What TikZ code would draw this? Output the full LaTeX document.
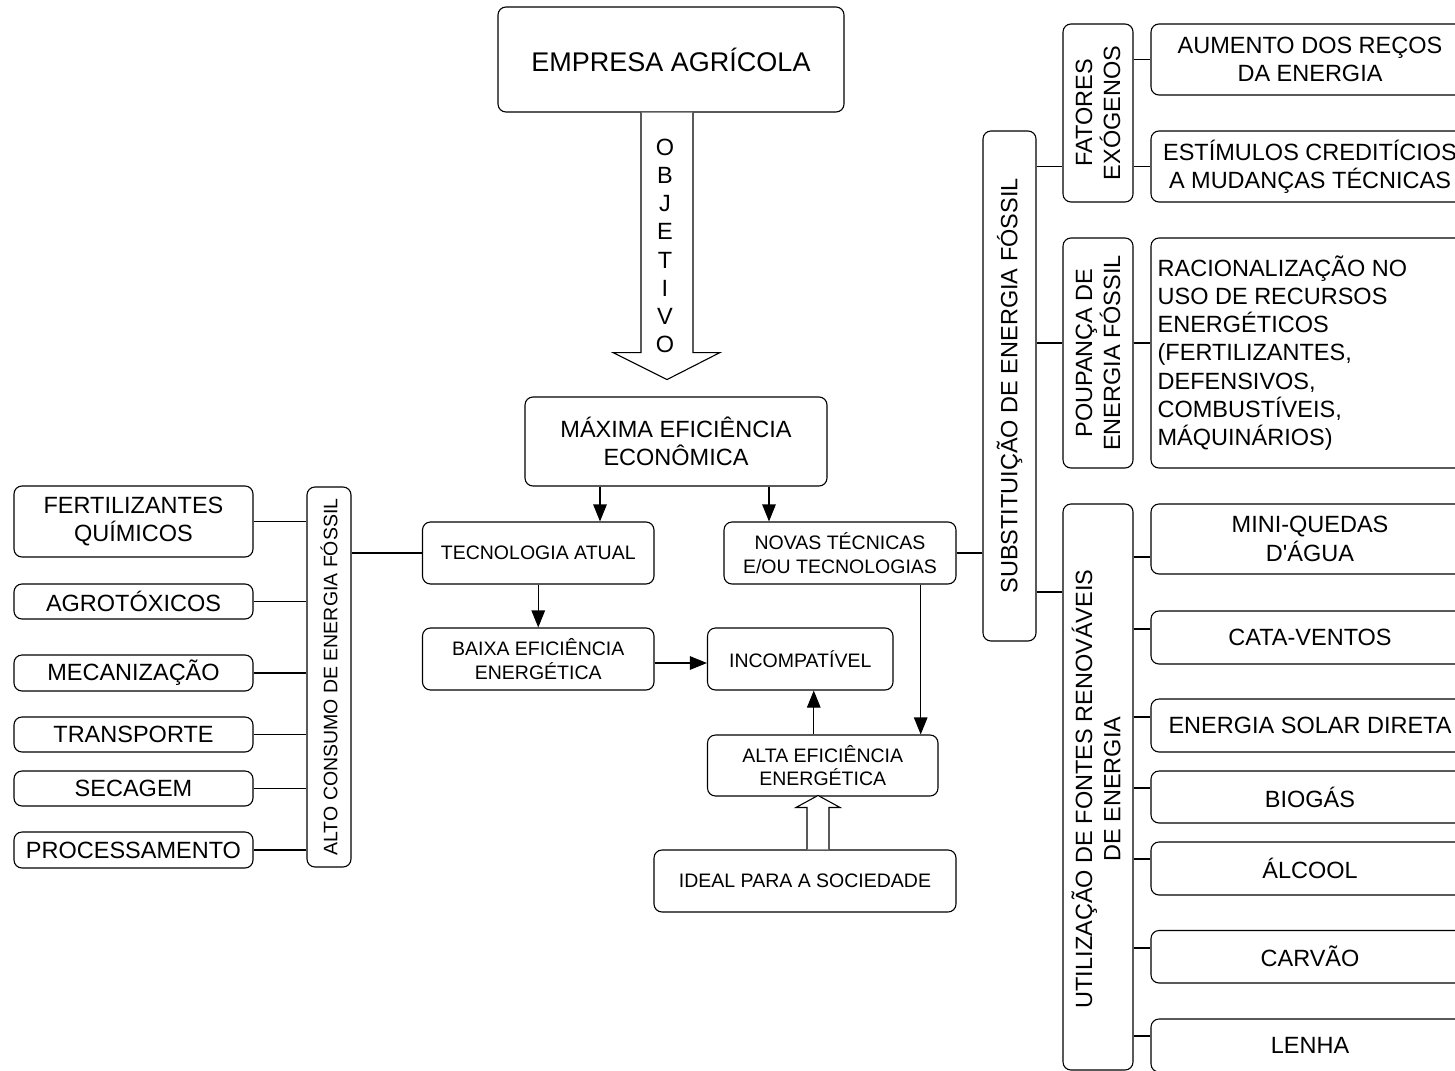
\documentclass[tikz,border=0pt]{standalone}
\usepackage{fontspec}
\setmainfont{Liberation Sans}[Ligatures=TeXOff]
\usetikzlibrary{arrows.meta,calc}
\newcommand{\fbig}{\fontsize{27}{32}\selectfont}
\newcommand{\fmed}{\fontsize{23.5}{28.2}\selectfont}
\newcommand{\fsml}{\fontsize{19.5}{23.5}\selectfont}
\begin{document}
\begin{tikzpicture}[x=1pt,y=-1pt,
  box/.style={draw=black, line width=1.1pt, rounded corners=8pt, fill=white, inner sep=0pt, align=center},
  txt/.style={inner sep=0pt, align=center},
  conn/.style={line width=1.1pt},
  arr/.style={conn, -{Triangle[length=17pt,width=13.5pt]}},
  blk/.style={draw=black, line width=1.1pt, fill=white, line join=miter}
]
\clip (0,0) rectangle (1455,1070);
\fill[white] (0,0) rectangle (1455,1070);

% centre column
\node[box, font=\fbig, minimum width=346pt, minimum height=105pt] (emp) at (671,59.5) {EMPRESA AGRÍCOLA};
\node[box, font=\fmed, minimum width=302pt, minimum height=89pt] (max) at (676,441.5) {MÁXIMA EFICIÊNCIA\\ECONÔMICA};
\node[box, font=\fsml, minimum width=231.5pt, minimum height=62pt] (tec) at (538.25,553) {TECNOLOGIA ATUAL};
\node[box, font=\fsml, minimum width=232pt, minimum height=62pt] (nov) at (840,553) {NOVAS TÉCNICAS\\E/OU TECNOLOGIAS};
\node[box, font=\fsml, minimum width=231.5pt, minimum height=62pt] (baixa) at (538.25,659) {BAIXA EFICIÊNCIA\\ENERGÉTICA};
\node[box, font=\fsml, minimum width=185.5pt, minimum height=62pt] (inc) at (800.25,659) {INCOMPATÍVEL};
\node[box, font=\fsml, minimum width=230.5pt, minimum height=61pt] (alta) at (822.75,765.5) {ALTA EFICIÊNCIA\\ENERGÉTICA};
\node[box, font=\fsml, minimum width=302pt, minimum height=62pt] (ideal) at (805,881) {IDEAL PARA A SOCIEDADE};

% OBJETIVO block arrow
\draw[blk] ($(emp.south)+(-30,0)$) -- ($(emp.south)+(-30,240)$) -- ($(emp.south)+(-58,240)$)
  -- ($(emp.south)+(-4,267)$) -- ($(emp.south)+(49,240)$) -- ($(emp.south)+(22,240)$)
  -- ($(emp.south)+(22,0)$);
\node[txt, font=\fmed] (obj) at (665,246) {O\\B\\J\\E\\T\\I\\V\\O};

% IDEAL block arrow
\draw[blk] ($(ideal.north)+(2,0)$) -- ($(ideal.north)+(2,-42)$) -- ($(ideal.north)+(-9,-42)$)
  -- ($(ideal.north)+(13,-54)$) -- ($(ideal.north)+(35,-42)$) -- ($(ideal.north)+(24,-42)$)
  -- ($(ideal.north)+(24,0)$);

% left column
\node[box, minimum width=44pt, minimum height=380pt] (alto) at (329,677) {};
\node[txt, font=\fsml, rotate=90] (altoT) at (alto.center) {ALTO CONSUMO DE ENERGIA FÓSSIL};
\node[box, font=\fmed, minimum width=239pt, minimum height=71pt] (fert) at (133.5,521.5) {FERTILIZANTES\\QUÍMICOS};
\node[box, font=\fmed, minimum width=239pt, minimum height=35pt] (agro) at (133.5,601.5) {AGROTÓXICOS};
\node[box, font=\fmed, minimum width=239pt, minimum height=36pt] (mec) at (133.5,673) {MECANIZAÇÃO};
\node[box, font=\fmed, minimum width=239pt, minimum height=35pt] (trans) at (133.5,734.5) {TRANSPORTE};
\node[box, font=\fmed, minimum width=239pt, minimum height=35pt] (sec) at (133.5,788.5) {SECAGEM};
\node[box, font=\fmed, minimum width=239pt, minimum height=36pt] (proc) at (133.5,850) {PROCESSAMENTO};

% right side
\node[box, minimum width=53pt, minimum height=510pt] (subst) at (1009.5,386) {};
\node[txt, font=\fmed, rotate=90] (substT) at (subst.center) {SUBSTITUIÇÃO DE ENERGIA FÓSSIL};
\node[box, minimum width=70pt, minimum height=178pt] (fat) at (1098,113) {};
\node[txt, font=\fmed, rotate=90] (fatT) at (fat.center) {FATORES\\EXÓGENOS};
\node[box, minimum width=70pt, minimum height=230pt] (poup) at (1098,353) {};
\node[txt, font=\fmed, rotate=90] (poupT) at (poup.center) {POUPANÇA DE\\ENERGIA FÓSSIL};
\node[box, minimum width=70pt, minimum height=566pt] (util) at (1098,787) {};
\node[txt, font=\fmed, rotate=90] (utilT) at ([xshift=-2pt,yshift=-2pt]util.center) {UTILIZAÇÃO DE FONTES RENOVÁVEIS\\DE ENERGIA};

\node[box, font=\fmed, minimum width=318pt, minimum height=71pt] (aum) at (1310,59.5) {AUMENTO DOS REÇOS\\DA ENERGIA};
\node[box, font=\fmed, minimum width=318pt, minimum height=71pt] (est) at (1310,166.5) {ESTÍMULOS CREDITÍCIOS\\A MUDANÇAS TÉCNICAS};
\node[box, minimum width=318pt, minimum height=230pt] (rac) at (1310,353) {};
\node[txt, font=\fmed, align=left, anchor=west] (racT) at ([xshift=7pt]rac.west) {RACIONALIZAÇÃO NO\\USO DE RECURSOS\\ENERGÉTICOS\\(FERTILIZANTES,\\DEFENSIVOS,\\COMBUSTÍVEIS,\\MÁQUINÁRIOS)};
\node[box, font=\fmed, minimum width=318pt, minimum height=70pt] (mini) at (1310,539) {MINI-QUEDAS\\D'ÁGUA};
\node[box, font=\fmed, minimum width=318pt, minimum height=53pt] (cata) at (1310,637.5) {CATA-VENTOS};
\node[box, font=\fmed, minimum width=318pt, minimum height=53pt] (solar) at (1310,725.5) {ENERGIA SOLAR DIRETA};
\node[box, font=\fmed, minimum width=318pt, minimum height=52pt] (bio) at (1310,797) {BIOGÁS};
\node[box, font=\fmed, minimum width=318pt, minimum height=53pt] (alc) at (1310,868.5) {ÁLCOOL};
\node[box, font=\fmed, minimum width=318pt, minimum height=52.5pt] (carv) at (1310,956.75) {CARVÃO};
\node[box, font=\fmed, minimum width=318pt, minimum height=53pt] (lenha) at (1310,1045.5) {LENHA};

% connectors: centre
\draw[arr] ([xshift=-76pt]max.south) -- ([xshift=-76pt]max.south |- tec.north);
\draw[arr] ([xshift=93pt]max.south) -- ([xshift=93pt]max.south |- nov.north);
\draw[arr] (tec.south) -- (baixa.north);
\draw[arr] ([yshift=-4pt]baixa.east) -- ([yshift=-4pt]baixa.east -| inc.west);
\draw[arr] ([xshift=-9pt]alta.north) -- ([xshift=-9pt]alta.north |- inc.south);
\draw[arr] ([xshift=80.7pt]nov.south) -- ([xshift=80.7pt]nov.south |- alta.north);
\draw[conn] (tec.west) -- (tec.west -| alto.east);
\draw[conn] (nov.east) -- (nov.east -| subst.west);

% connectors: left
\foreach \n in {fert,agro,mec,trans,sec,proc}
  \draw[conn] (\n.east) -- (\n.east -| alto.west);

% connectors: right
\draw[conn] (est.west -| subst.east) -- (est.west -| fat.west);
\draw[conn] (est.west -| fat.east) -- (est.west);
\draw[conn] (aum.west -| fat.east) -- (aum.west);
\draw[conn] ([yshift=10pt]poup.west -| subst.east) -- ([yshift=10pt]poup.west);
\draw[conn] ([yshift=10pt]poup.east) -- ([yshift=10pt]rac.west);
\draw[conn] ([yshift=195pt]util.west -| subst.east) -- ([yshift=195pt]util.west);
\foreach \n/\d in {mini/-18,cata/8.5,solar/8.5,bio/9,alc/9.5,carv/8.75,lenha/9.5}
  \draw[conn] ([yshift=\d pt]\n.west -| util.east) -- ([yshift=\d pt]\n.west);
\end{tikzpicture}
\end{document}
